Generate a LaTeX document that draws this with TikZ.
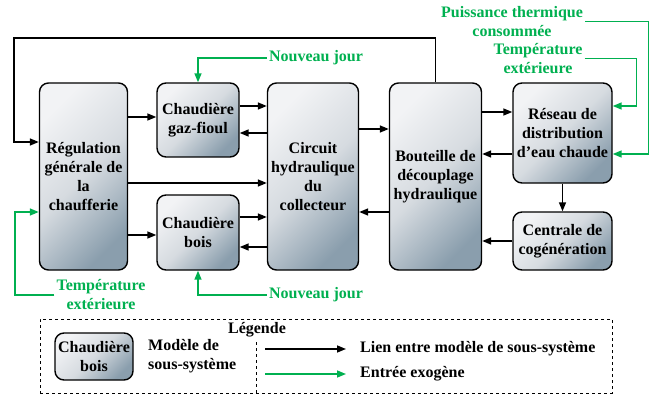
\documentclass[tikz,border=0pt]{standalone}
\usepackage{fontspec}
\setmainfont{Liberation Serif}
\usetikzlibrary{arrows.meta}
\definecolor{vertexo}{RGB}{0,176,80}
\definecolor{grisclair}{RGB}{242,243,245}
\definecolor{grismilieu}{RGB}{214,219,224}
\definecolor{grisbleu}{RGB}{138,158,173}
\tikzstyle{modele} = [draw, line width=1.4pt, rounded corners=9pt, top color=grisclair, bottom color=grisbleu, middle color=grismilieu, shading angle=45, align=center, inner sep=2pt, font=\bfseries\fontsize{16}{19}\selectfont]
\tikzstyle{texte} = [align=center, inner sep=2pt, font=\bfseries\fontsize{16}{19}\selectfont]
\tikzstyle{exotexte} = [texte, text=vertexo]
\tikzstyle{lien} = [line width=1.5pt, -{Triangle[length=9pt,width=7pt]}]
\tikzstyle{entree} = [lien, color=vertexo]

\begin{document}
\begin{tikzpicture}[x=1pt,y=-1pt]
	\useasboundingbox (0,0) rectangle (663,398);
	% sous-systemes
	\node[modele, minimum width=88pt, minimum height=187pt] (reg) at (83.5,176.5) {R\'egulation\\g\'en\'erale de\\la\\chaufferie};
	\node[modele, minimum width=82pt, minimum height=74pt] (gaz) at (198,120) {Chaudi\`ere\\gaz-fioul};
	\node[modele, minimum width=82pt, minimum height=75pt] (bois) at (198,232.5) {Chaudi\`ere\\bois};
	\node[modele, minimum width=91pt, minimum height=187pt] (circ) at (313,176.5) {Circuit\\hydraulique\\du\\collecteur};
	\node[modele, minimum width=92pt, minimum height=187pt] (bout) at (435.5,176.5) {Bouteille de\\d\'ecouplage\\hydraulique};
	\node[modele, minimum width=99pt, minimum height=100pt] (res) at (562.5,133) {R\'eseau de\\distribution\\d'eau chaude};
	\node[modele, minimum width=99pt, minimum height=58pt] (cent) at (562.5,241) {Centrale de\\cog\'en\'eration};

	% liens
	\draw[lien] ([yshift=3pt]reg.east |- gaz.west) -- ([yshift=3pt]gaz.west);
	\draw[lien] ([yshift=14pt]gaz.east) -- ([yshift=14pt]gaz.east -| circ.west);
	\draw[lien] ([yshift=-13pt]gaz.east -| circ.west) -- ([yshift=-13pt]gaz.east);
	\draw[lien] ([yshift=-6.5pt]reg.east) -- ([yshift=-6.5pt]circ.west);
	\draw[lien] ([yshift=-2.5pt]reg.east |- bois.west) -- ([yshift=-2.5pt]bois.west);
	\draw[lien] ([yshift=15.5pt]bois.east) -- ([yshift=15.5pt]bois.east -| circ.west);
	\draw[lien] ([yshift=-14.5pt]bois.east -| circ.west) -- ([yshift=-14.5pt]bois.east);
	\draw[lien] ([yshift=47.5pt]circ.east) -- ([yshift=47.5pt]bout.west);
	\draw[lien] ([yshift=-35.5pt]bout.west) -- ([yshift=-35.5pt]circ.east);
	\draw[lien] ([yshift=21pt]bout.east |- res.west) -- ([yshift=21pt]res.west);
	\draw[lien] ([yshift=-21pt]res.west) -- ([yshift=-21pt]bout.east |- res.west);
	\draw[lien] (res.south) -- (cent.north);
	\draw[lien] (cent.west) -- (cent.west -| bout.east);
	\coordinate (retour) at (14,38);
	\draw[lien] (bout.north) |- (retour) |- ([yshift=34.5pt]reg.west);

	% entrees exogenes
	\node[exotexte] (jour1) at (316,58) {Nouveau jour};
	\node[exotexte] (jour2) at (316,295) {Nouveau jour};
	\node[exotexte] (text1) at (101,295) {Temp\'erature\\ext\'erieure};
	\node[exotexte] (text2) at (538,58.5) {Temp\'erature\\ext\'erieure};
	\node[exotexte] (pth) at (512,21.5) {Puissance thermique\\consomm\'ee};
	\draw[entree] (jour1.west) -| (gaz.north);
	\draw[entree] (jour2.west) -| (bois.south);
	\coordinate (exog) at (15,212);
	\draw[entree] (text1.west) -| (exog) -- (exog -| reg.west);
	\draw[entree] (text2.east) -| ([xshift=24pt,yshift=27pt]res.east) -- ([yshift=27pt]res.east);
	\draw[entree] (pth.east) -| ([xshift=36pt,yshift=-21pt]res.east) -- ([yshift=-21pt]res.east);

	% legende
	\node[draw, dashed, line width=0.6pt, minimum width=572pt, minimum height=74pt] (leg) at (326,356) {};
	\node[texte] (legtitre) at (257,330) {L\'egende};
	\node[modele, minimum width=78pt, minimum height=47pt, inner sep=1pt] (legmod) at (94,356.5) {Chaudi\`ere\\bois};
	\node[texte, align=left, anchor=west] (legmodtxt) at (146,356.5) {Mod\`ele de\\sous-syst\`eme};
	\coordinate (sep) at (256,342);
	\draw[dashed, line width=0.6pt] (sep) -- (sep |- leg.south);
	\coordinate (l1) at (265,349);
	\coordinate (l2) at (265,374);
	\node[texte, anchor=west] (leglien) at (358,349) {Lien entre mod\`ele de sous-syst\`eme};
	\node[texte, anchor=west] (legexo) at (358,374) {Entr\'ee exog\`ene};
	\draw[lien] (l1) -- (l1 -| 346,0);
	\draw[entree] (l2) -- (l2 -| 346,0);
\end{tikzpicture}
\end{document}
